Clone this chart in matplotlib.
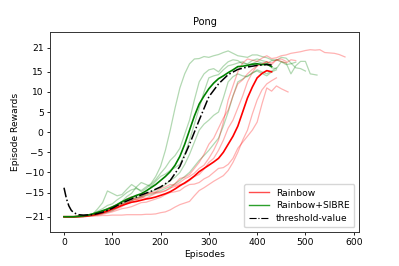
import matplotlib
matplotlib.use("Agg")
import matplotlib.pyplot as plt
from matplotlib.lines import Line2D

# ---------------- data ----------------
title = "Pong"
xlabel = "Episodes"
ylabel = "Episode Rewards"
yticks = [-21, -15, -10, -5, 0, 5, 10, 15, 21]
xticks = [0, 100, 200, 300, 400, 500, 600]
legend_labels = ["Rainbow", "Rainbow+SIBRE", "threshold-value"]

# Rainbow individual runs (episodes sampled every 10)
r1_x = list(range(0, 580, 10)) + [582]
r1_y = [-21, -21, -21, -20.9, -20.9, -20.7, -20.6, -20.2, -19.8, -19.0,
        -18.5, -18.2, -17.5, -16.6, -16.0, -16.8, -16.5, -15.6, -15.0, -14.8,
        -14.0, -13.6, -13.0, -13.2, -12.5, -11.6, -11.0, -10.2, -9.0, -8.2,
        -6.5, -4.5, -2.0, 2.5, 8.0, 11.5, 15.0, 17.2, 18.2, 17.9,
        17.6, 18.4, 19.0, 18.3, 18.5, 19.0, 19.2, 19.6, 19.8, 20.0,
        20.3, 20.5, 20.4, 20.5, 19.8, 19.7, 19.6, 19.3,
        18.7]
r2_x = list(range(0, 490, 10))
r2_y = [-21, -21, -21, -21, -20.9, -20.8, -20.7, -20.5, -20.2, -19.8,
        -19.5, -19.0, -18.5, -17.6, -17.0, -16.8, -16.2, -16.4, -15.8, -15.2,
        -15.0, -14.6, -13.8, -13.5, -13.0, -12.8, -12.0, -11.0, -10.5, -9.2,
        -7.5, -6.5, -4.5, -2.0, 1.0, 3.0, 6.0, 9.0, 12.5, 14.8,
        16.5, 17.0, 17.5, 16.8, 18.0, 17.6, 17.2, 18.0, 17.8]
r3_x = list(range(0, 460, 10)) + [464]
r3_y = [-21, -21, -21, -21, -21, -20.9, -20.8, -20.6, -20.4, -20.1,
        -19.8, -19.4, -19.0, -18.8, -18.5, -18.0, -17.5, -17.4, -17.0, -16.6,
        -16.2, -15.5, -15.0, -14.8, -14.5, -13.6, -13.0, -12.9, -12.5, -11.6,
        -11.0, -10.0, -9.0, -8.8, -8.0, -6.5, -4.0, -2.5, -1.0, 0.5,
        2.5, 7.0, 11.0, 10.2, 11.5, 10.8,
        10.0]
r4_x = list(range(0, 450, 10))
r4_y = [-21, -21, -21, -21, -21, -20.9, -20.8, -20.8, -20.7, -20.7,
        -20.6, -20.6, -20.6, -20.5, -20.5, -20.5, -20.5, -20.4, -20.4, -20.3,
        -20.0, -19.8, -19.3, -18.6, -18.0, -17.6, -17.2, -15.8, -14.5, -13.8,
        -13.0, -12.2, -11.5, -10.8, -9.5, -7.5, -5.0, -2.0, 0.5, 4.5,
        8.0, 10.5, 12.0, 12.8, 13.5]
r5_x = list(range(0, 470, 10))
r5_y = [-21, -21, -21, -20.9, -20.9, -20.8, -20.6, -20.3, -20.0, -19.5,
        -19.0, -18.3, -17.8, -17.5, -17.0, -16.4, -16.0, -15.4, -15.2, -15.0,
        -14.8, -14.5, -14.0, -12.8, -11.5, -11.2, -10.5, -9.0, -7.5, -5.5,
        -3.0, -1.5, 1.0, 3.5, 5.5, 9.0, 12.0, 13.0, 14.5, 15.6,
        16.5, 16.8, 17.5, 17.2, 18.0, 18.2, 17.6]

# Rainbow+SIBRE individual runs
g1_x = list(range(0, 510, 10))
g1_y = [-21, -21, -21, -20.9, -20.8, -20.5, -20.2, -19.6, -19.0, -18.2,
        -17.8, -16.8, -16.0, -15.0, -14.3, -14.0, -14.5, -13.6, -12.8, -11.0,
        -8.5, -4.5, 0.5, 6.0, 11.0, 14.5, 17.0, 18.2, 18.3, 18.8,
        18.6, 19.0, 19.3, 19.8, 20.2, 19.6, 19.0, 18.8, 18.6, 19.2,
        19.2, 18.8, 18.5, 18.0, 17.8, 18.6, 18.4, 17.2, 16.0, 15.8,
        15.2]
g2_x = list(range(0, 520, 10)) + [524]
g2_y = [-21, -21, -21, -20.9, -20.8, -20.6, -20.3, -19.0, -17.5, -14.6,
        -15.2, -15.8, -15.5, -14.2, -13.0, -13.8, -14.8, -14.0, -13.0, -11.8,
        -10.2, -8.8, -7.0, -5.8, -4.0, -0.5, 3.0, 8.0, 12.5, 14.5,
        15.5, 15.8, 15.0, 16.4, 17.5, 18.0, 17.8, 17.0, 17.0, 17.8,
        18.2, 17.8, 17.5, 16.0, 15.8, 17.5, 17.2, 14.5, 16.5, 17.6,
        17.6, 14.5,
        14.2]
g3_x = list(range(0, 490, 10))
g3_y = [-21, -21, -21, -21, -20.9, -20.7, -20.5, -20.1, -19.6, -19.0,
        -18.5, -17.9, -17.2, -16.0, -15.2, -13.6, -12.5, -13.0, -13.5, -12.2,
        -11.0, -10.4, -9.5, -8.8, -8.0, -5.5, -2.0, 2.0, 6.0, 10.0,
        13.5, 14.0, 14.3, 15.5, 16.5, 16.8, 17.2, 17.5, 16.8, 17.0,
        17.6, 17.2, 17.0, 17.8, 18.0, 17.5, 16.8, 17.0, 17.4]
g4_x = list(range(0, 450, 10))
g4_y = [-21, -21, -21, -21, -20.9, -20.8, -20.6, -20.3, -19.9, -19.4,
        -18.8, -18.3, -17.8, -17.0, -16.5, -16.2, -16.0, -15.2, -14.8, -14.3,
        -13.8, -13.0, -12.0, -11.2, -10.0, -8.0, -5.5, -2.5, 0.5, 2.0,
        3.0, 4.2, 5.0, 8.5, 12.5, 13.8, 14.5, 14.0, 13.8, 14.8,
        15.2, 14.6, 14.0, 15.0, 15.5]
g5_x = list(range(0, 450, 10))
g5_y = [-21, -21, -21, -21, -21, -20.9, -20.7, -20.5, -20.2, -19.9,
        -19.5, -18.8, -18.0, -17.4, -17.0, -16.5, -16.0, -15.8, -15.5, -15.0,
        -14.5, -14.0, -13.5, -12.8, -12.0, -11.0, -10.0, -8.5, -7.0, -5.8,
        -4.5, -3.0, -1.5, 1.5, 5.0, 9.0, 12.5, 13.2, 14.0, 14.6,
        15.5, 15.0, 14.5, 15.2, 16.0]

# mean curves
rmean_x = list(range(0, 440, 10))
rmean_y = [-21, -21, -21, -20.95, -20.9, -20.7, -20.5, -20.3, -20.0, -19.6,
           -19.1, -18.7, -18.2, -17.8, -17.4, -17.2, -16.9, -16.6, -16.4, -16.1,
           -15.7, -15.3, -14.8, -14.1, -13.3, -12.6, -11.8, -10.9, -9.8, -9.0,
           -8.2, -7.4, -6.5, -5.0, -3.0, -1.0, 1.5, 5.0, 8.5, 11.2,
           13.5, 14.6, 15.3, 15.0]
gmean_x = list(range(0, 440, 10))
gmean_y = [-21, -21, -21, -20.9, -20.8, -20.6, -20.3, -19.9, -19.5, -19.1,
           -18.6, -18.0, -17.3, -16.7, -16.2, -15.7, -15.3, -14.6, -13.8, -13.0,
           -12.0, -11.0, -9.8, -8.2, -6.0, -3.0, 0.5, 4.0, 7.0, 9.0,
           10.8, 12.2, 13.3, 14.0, 14.8, 15.5, 16.3, 16.4, 16.6, 16.9,
           17.0, 16.8, 16.9, 16.3]
thr_x = [0, 5, 10, 15, 20, 30, 40, 60, 80, 100, 120, 140, 160, 180, 200, 220, 240, 260, 280, 300, 320, 340, 360, 380, 400, 420, 430]
thr_y = [-13.8, -16.5, -18.3, -19.4, -20.0, -20.5, -20.6, -20.5, -19.9, -18.9, -17.6, -16.6, -15.6, -14.7, -13.6, -12.0, -8.5, -3.0, 3.0, 8.8, 12.0, 14.3, 15.6, 16.2, 16.6, 16.8, 16.7]

# ---------------- plot ----------------
FS = 6.6
fig = plt.figure(figsize=(3.99, 2.66), dpi=100)
ax = fig.add_axes([50 / 399, 1 - 232 / 266, 309 / 399, 200 / 266])

red_runs = [(r1_x, r1_y), (r2_x, r2_y), (r3_x, r3_y), (r4_x, r4_y), (r5_x, r5_y)]
green_runs = [(g1_x, g1_y), (g2_x, g2_y), (g3_x, g3_y), (g4_x, g4_y), (g5_x, g5_y)]

for xs, ys in green_runs:
    ax.plot(xs, ys, color="green", alpha=0.3, lw=0.9)
for xs, ys in red_runs:
    ax.plot(xs, ys, color="red", alpha=0.3, lw=0.9)

ax.plot(rmean_x, rmean_y, color="red", lw=1.2)
ax.plot(gmean_x, gmean_y, color="green", lw=1.2)
ax.plot(thr_x, thr_y, color="black", lw=1.1, linestyle="-.")

ax.set_xlim(-29, 611)
ax.set_ylim(-24.8, 24.9)
ax.set_xticks(xticks)
ax.set_yticks(yticks)
ax.tick_params(labelsize=FS, length=2.5, width=0.6, pad=2)
for s in ax.spines.values():
    s.set_linewidth(0.7)
    s.set_color("#333333")

ax.set_title(title, fontsize=FS + 0.4, pad=5)
ax.set_xlabel(xlabel, fontsize=FS, labelpad=2)
ax.set_ylabel(ylabel, fontsize=FS, labelpad=3)

handles = [
    Line2D([0], [0], color="red", alpha=0.7, lw=1.0),
    Line2D([0], [0], color="#2ca02c", lw=1.0),
    Line2D([0], [0], color="black", lw=0.8, linestyle="-."),
]
ax.legend(handles, legend_labels, loc="lower right", fontsize=FS, frameon=True,
          handlelength=2.2, borderpad=0.5, labelspacing=0.4, framealpha=0.8)

fig.savefig("out.png", dpi=100)
